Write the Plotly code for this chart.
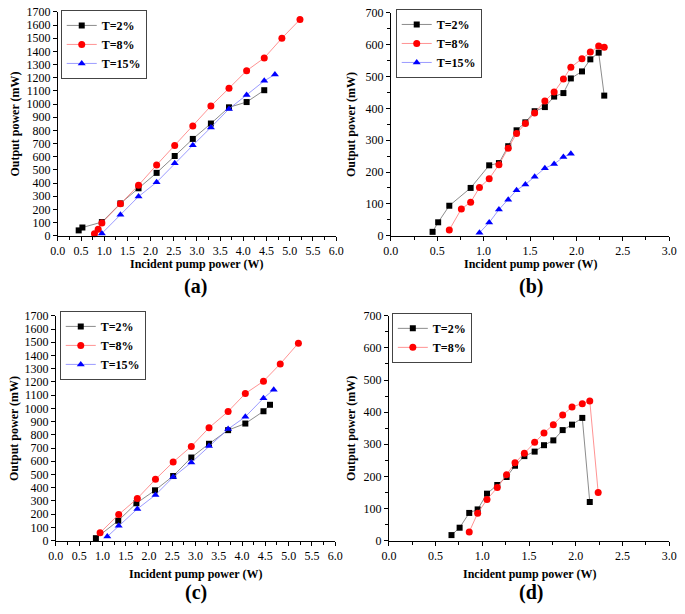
import plotly.graph_objects as go

# ---------------- data ----------------
# Panel (a)
a_x_2 = [0.45, 0.53, 0.95, 1.35, 1.74, 2.13, 2.52, 2.91, 3.30, 3.69, 4.07, 4.45]
a_y_2 = [40, 62, 103, 245, 360, 477, 605, 735, 852, 975, 1015, 1105]
a_x_8 = [0.79, 0.87, 0.95, 1.35, 1.74, 2.13, 2.52, 2.91, 3.30, 3.69, 4.07, 4.45, 4.83, 5.22]
a_y_8 = [15, 48, 97, 243, 383, 537, 685, 833, 985, 1120, 1253, 1350, 1500, 1642]
a_x_15 = [0.95, 1.35, 1.74, 2.13, 2.52, 2.91, 3.30, 3.69, 4.07, 4.45, 4.68]
a_y_15 = [17, 158, 297, 406, 550, 686, 822, 963, 1069, 1176, 1224]

# Panel (b)
b_x_2 = [0.45, 0.51, 0.63, 0.86, 1.06, 1.165, 1.265, 1.355, 1.45, 1.55, 1.66, 1.76, 1.86, 1.94, 2.06, 2.15, 2.24, 2.30]
b_y_2 = [12, 42, 94, 150, 221, 228, 281, 331, 356, 391, 404, 437, 448, 494, 516, 554, 575, 440]
b_x_8 = [0.63, 0.76, 0.86, 0.955, 1.06, 1.165, 1.265, 1.355, 1.45, 1.55, 1.66, 1.76, 1.86, 1.94, 2.06, 2.15, 2.24, 2.30]
b_y_8 = [18, 84, 105, 151, 179, 223, 275, 321, 352, 385, 423, 451, 492, 529, 556, 577, 596, 592]
b_x_15 = [0.955, 1.06, 1.165, 1.265, 1.355, 1.45, 1.55, 1.66, 1.76, 1.86, 1.94]
b_y_15 = [9, 41, 82, 113, 143, 161, 185, 212, 225, 247, 257]

# Panel (c)
c_x_2 = [0.86, 1.34, 1.73, 2.13, 2.52, 2.91, 3.29, 3.70, 4.07, 4.46, 4.60]
c_y_2 = [18, 150, 282, 380, 488, 628, 732, 835, 885, 978, 1027]
c_x_8 = [0.95, 1.35, 1.75, 2.14, 2.52, 2.91, 3.29, 3.70, 4.07, 4.46, 4.82, 5.21]
c_y_8 = [59, 197, 318, 463, 594, 712, 853, 976, 1112, 1205, 1336, 1493]
c_x_15 = [1.105, 1.35, 1.75, 2.14, 2.52, 2.91, 3.29, 3.70, 4.07, 4.46, 4.68]
c_y_15 = [30, 111, 239, 345, 480, 590, 715, 843, 936, 1077, 1141]

# Panel (d)
d_x_2 = [0.67, 0.757, 0.86, 0.95, 1.05, 1.16, 1.26, 1.35, 1.45, 1.56, 1.66, 1.76, 1.86, 1.96, 2.07, 2.15]
d_y_2 = [17, 40, 86, 97, 146, 173, 198, 233, 263, 277, 297, 312, 344, 361, 382, 120]
d_x_8 = [0.86, 0.95, 1.05, 1.16, 1.26, 1.35, 1.45, 1.56, 1.66, 1.76, 1.86, 1.96, 2.07, 2.15, 2.24]
d_y_8 = [27, 85, 128, 165, 205, 242, 272, 306, 335, 361, 391, 416, 426, 435, 150]

series_names = ["T=2%", "T=8%", "T=15%"]
panel_labels = ["(a)", "(b)", "(c)", "(d)"]
x_title = "Incident pump power (W)"
y_title = "Output power (mW)"

# ---------------- figure ----------------
W, H = 685, 614
SERIF = "Liberation Serif, Times New Roman, serif"

def px(x):
    return x / W

def py(y):
    return 1 - y / H

styles = [
    dict(marker=dict(symbol="square", size=6, color="#000000"), line=dict(color="rgba(120,120,120,0.85)", width=1)),
    dict(marker=dict(symbol="circle", size=7, color="#ff0000"), line=dict(color="rgba(255,120,120,0.8)", width=1)),
    dict(marker=dict(symbol="triangle-up", size=7, color="#0000ff"), line=dict(color="rgba(130,130,255,0.8)", width=1)),
]

panels = [
    dict(series=[(a_x_2, a_y_2), (a_x_8, a_y_8), (a_x_15, a_y_15)], xr=[0, 6], yr=[0, 1700], ydt=100, yminor=None,
         dom_x=(51, 336), dom_y=(5, 234), leg=(54, 3), ytx=7, xty=263, lab=(192, 286)),
    dict(series=[(b_x_2, b_y_2), (b_x_8, b_y_8), (b_x_15, b_y_15)], xr=[0, 3], yr=[0, 700], ydt=100, yminor=50,
         dom_x=(392, 677), dom_y=(6, 234), leg=(397, 2), ytx=351, xty=263, lab=(535, 286)),
    dict(series=[(c_x_2, c_y_2), (c_x_8, c_y_8), (c_x_15, c_y_15)], xr=[0, 6], yr=[0, 1700], ydt=100, yminor=None,
         dom_x=(49, 335), dom_y=(316, 546), leg=(53, 311), ytx=6, xty=580, lab=(193, 599)),
    dict(series=[(d_x_2, d_y_2), (d_x_8, d_y_8)], xr=[0, 3], yr=[0, 700], ydt=100, yminor=50,
         dom_x=(390, 677), dom_y=(316, 546), leg=(393, 313), ytx=351, xty=580, lab=(535, 599)),
]

fig = go.Figure()
annotations = []
layout_axes = {}

for i, p in enumerate(panels):
    n = i + 1
    xa = "x" if n == 1 else f"x{n}"
    ya = "y" if n == 1 else f"y{n}"
    legname = "legend" if n == 1 else f"legend{n}"
    for j, (xs, ys) in enumerate(p["series"]):
        fig.add_trace(go.Scatter(
            x=xs, y=ys, mode="lines+markers", name=series_names[j],
            marker=styles[j]["marker"], line=styles[j]["line"],
            xaxis=xa, yaxis=ya, legend=legname, cliponaxis=False,
        ))
    xkey = "xaxis" if n == 1 else f"xaxis{n}"
    ykey = "yaxis" if n == 1 else f"yaxis{n}"
    x0, x1 = p["dom_x"]
    yt, yb = p["dom_y"]
    layout_axes[xkey] = dict(
        domain=[px(x0), px(x1)], range=p["xr"], anchor=ya,
        dtick=0.5, tick0=0, tickformat=".1f", ticks="outside", ticklen=4, tickwidth=1,
        tickcolor="#000", showline=True, linecolor="#000", linewidth=1,
        showgrid=False, zeroline=False,
        tickfont=dict(family=SERIF, size=12, color="#000"),
        minor=dict(dtick=0.25, ticks="outside", ticklen=3, tickcolor="#000", showgrid=False),
    )
    ycfg = dict(
        domain=[py(yb), py(yt)], range=p["yr"], anchor=xa,
        dtick=p["ydt"], tick0=0, ticks="outside", ticklen=4, tickwidth=1,
        tickcolor="#000", showline=True, linecolor="#000", linewidth=1,
        showgrid=False, zeroline=False,
        tickfont=dict(family=SERIF, size=12, color="#000"),
    )
    if p["yminor"]:
        ycfg["minor"] = dict(dtick=p["yminor"], ticks="outside", ticklen=3, tickcolor="#000", showgrid=False)
    layout_axes[ykey] = ycfg

    lx, ly = p["leg"]
    layout_axes[legname] = dict(
        x=px(lx), y=py(ly), xanchor="left", yanchor="top",
        bgcolor="white", bordercolor="#444", borderwidth=1,
        font=dict(family=SERIF, size=12, color="#000", weight="bold"),
        tracegroupgap=0, itemwidth=30,
    )

    annotations.append(dict(
        text=f"<b>{x_title}</b>", x=px((x0 + x1) / 2), y=py(p["xty"]), xref="paper", yref="paper",
        showarrow=False, xanchor="center", yanchor="middle",
        font=dict(family=SERIF, size=12, color="#000"),
    ))
    annotations.append(dict(
        text=f"<b>{y_title}</b>", x=px(p["ytx"]), y=py((yt + yb) / 2), xref="paper", yref="paper",
        showarrow=False, xanchor="center", yanchor="middle", textangle=-90,
        font=dict(family=SERIF, size=12, color="#000"),
    ))
    annotations.append(dict(
        text=f"<b>{panel_labels[i]}</b>", x=px(p["lab"][0]), y=py(p["lab"][1]), xref="paper", yref="paper",
        showarrow=False, xanchor="center", yanchor="middle",
        font=dict(family=SERIF, size=20, color="#000"),
    ))

fig.update_layout(
    width=W, height=H,
    margin=dict(l=0, r=0, t=0, b=0),
    paper_bgcolor="white", plot_bgcolor="white",
    annotations=annotations,
    **layout_axes,
)

fig.write_html(
    "out.html",
    config={"displayModeBar": False},
    post_script="document.body.style.margin='0';document.body.style.overflow='hidden';",
)
